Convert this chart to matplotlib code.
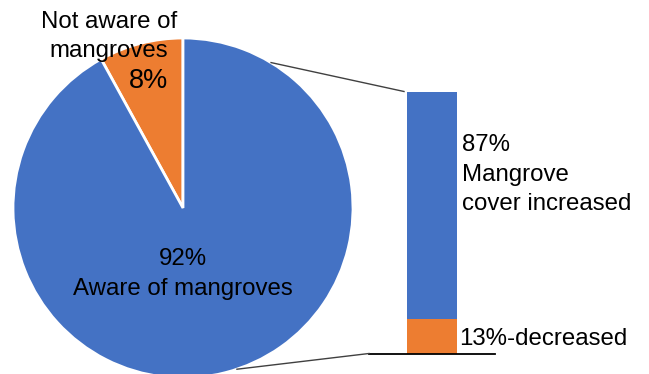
import numpy as np
import matplotlib
matplotlib.use("Agg")
import matplotlib.pyplot as plt

plt.rcParams['font.family'] = ['Liberation Sans', 'DejaVu Sans']

# awareness split (pie) and cover change among the aware (bar)
pie_labels = ["Not aware of\nmangroves", "Aware of\nmangroves"]
pie_values = [8, 92]
bar_labels = ["decreased", "Mangrove\ncover increased"]
bar_values = [13, 87]

BLUE = "#4472C4"
ORANGE = "#ED7D31"
LINE = "#404040"

W, H = 649, 374
fig = plt.figure(figsize=(W / 100, H / 100), dpi=100)
ax = fig.add_axes([0, 0, 1, 1])

# pie
cx, cy, r = 183, 166, 170
ax.pie(pie_values, colors=[ORANGE, BLUE], startangle=90, counterclock=True,
       center=(cx, cy), radius=r,
       wedgeprops=dict(edgecolor="white", linewidth=2))

# stacked bar on the right
bx, bw, b0, bh = 432, 50, 20.5, 262
bottom = b0
for val, col in zip(bar_values, [ORANGE, BLUE]):
    ax.bar(bx, val / 100 * bh, width=bw, bottom=bottom, color=col, linewidth=0)
    bottom += val / 100 * bh

# baseline under the bar
ax.plot([369, 495], [b0, b0], color="black", lw=1.3)

# connector lines
a_top, a_bot = np.radians(58.8), np.radians(-71.5)
ax.plot([cx + r * np.cos(a_top), bx - bw / 2 - 3], [cy + r * np.sin(a_top), b0 + bh],
        color=LINE, lw=1)
ax.plot([cx + r * np.cos(a_bot), 369], [cy + r * np.sin(a_bot), b0], color=LINE, lw=1)

fs = 17.3
ls = 1.42
ax.text(109, H - 36.5, pie_labels[0], ha="center", va="center", fontsize=fs, linespacing=ls)
ax.text(149, H - 81, f"{pie_values[0]}%", ha="center", va="center", fontsize=19.5)
ax.text(183, H - 274, f"{pie_values[1]}%\n" + pie_labels[1].replace("\n", " "),
        ha="center", va="center", fontsize=fs, linespacing=ls)
ax.text(462, H - 174.5, f"{bar_values[1]}%\n{bar_labels[1]}", ha="left", va="center",
        fontsize=fs, linespacing=ls)
ax.text(459, H - 339, f"{bar_values[0]}%-{bar_labels[0]}", ha="left", va="center", fontsize=fs)

ax.set_xlim(0, W)
ax.set_ylim(0, H)
ax.set_aspect("auto")
ax.axis("off")

fig.savefig("out.png", dpi=100)
